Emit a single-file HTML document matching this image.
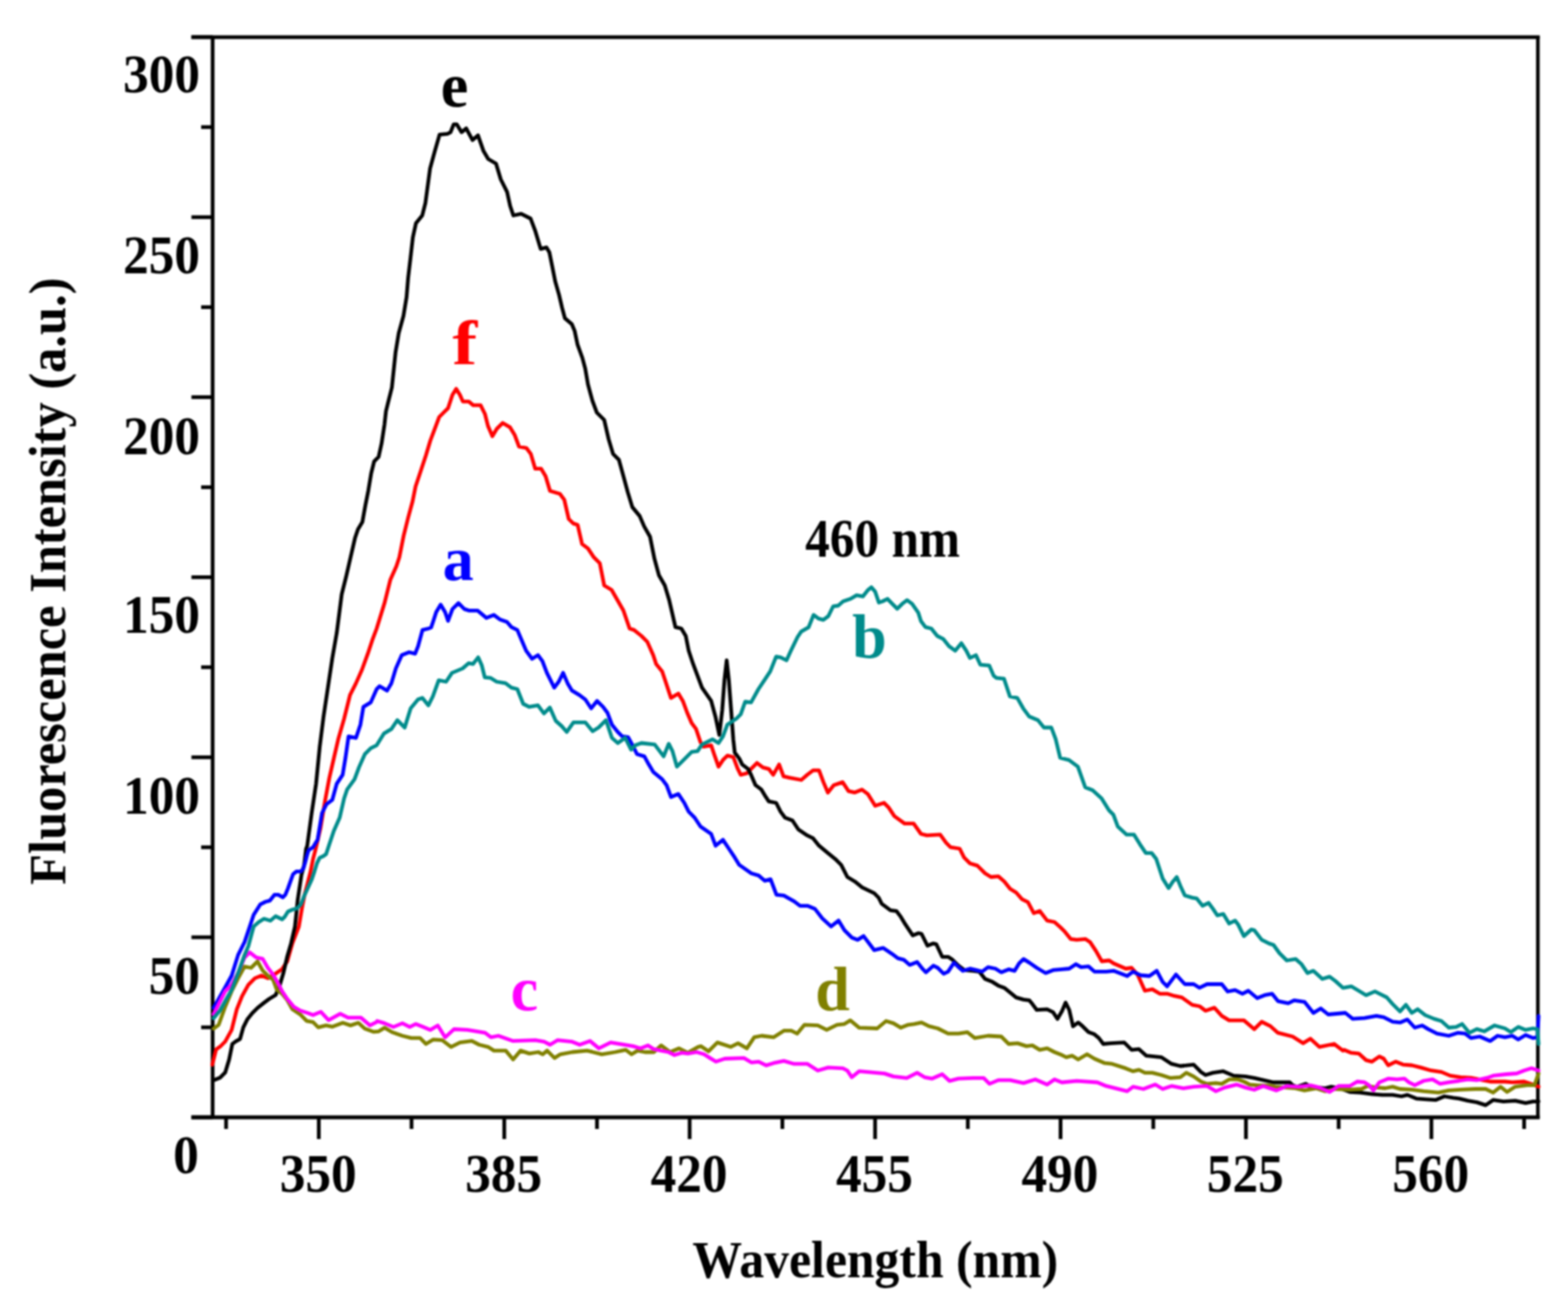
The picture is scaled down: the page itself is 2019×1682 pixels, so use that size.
<!DOCTYPE html>
<html><head><meta charset="utf-8"><title>Fluorescence spectra</title>
<style>
html,body{margin:0;padding:0;background:#fff;}
svg{display:block;}
#wrap{width:2019px;height:1682px;overflow:hidden;filter:blur(1.00px);}
text{font-family:'Liberation Serif','Times New Roman',serif;font-weight:bold;}
</style></head><body><div id="wrap">
<svg width="2019" height="1682" viewBox="0 0 2019 1682">
<rect width="2019" height="1682" fill="#fff"/>

<g stroke="#000" stroke-width="4.8" fill="none" stroke-linecap="butt">
<line x1="246.5" y1="47.8" x2="1982.5" y2="47.8"/>
<line x1="246.5" y1="1439.0" x2="1982.5" y2="1439.0"/>
<line x1="273.8" y1="46.0" x2="273.8" y2="1440.8"/>
<line x1="1980.2" y1="46.0" x2="1980.2" y2="1440.8" stroke-width="4.6"/>
<line x1="246.5" y1="1439.0" x2="273.8" y2="1439.0"/>
<line x1="259" y1="1323.1" x2="273.8" y2="1323.1"/>
<line x1="246.5" y1="1207.1" x2="273.8" y2="1207.1"/>
<line x1="259" y1="1091.2" x2="273.8" y2="1091.2"/>
<line x1="246.5" y1="975.3" x2="273.8" y2="975.3"/>
<line x1="259" y1="859.3" x2="273.8" y2="859.3"/>
<line x1="246.5" y1="743.4" x2="273.8" y2="743.4"/>
<line x1="259" y1="627.5" x2="273.8" y2="627.5"/>
<line x1="246.5" y1="511.5" x2="273.8" y2="511.5"/>
<line x1="259" y1="395.6" x2="273.8" y2="395.6"/>
<line x1="246.5" y1="279.7" x2="273.8" y2="279.7"/>
<line x1="259" y1="163.7" x2="273.8" y2="163.7"/>
<line x1="246.5" y1="47.8" x2="273.8" y2="47.8"/>
<line x1="291.1" y1="1439.0" x2="291.1" y2="1454.0"/>
<line x1="410.5" y1="1439.0" x2="410.5" y2="1467.0"/>
<line x1="529.9" y1="1439.0" x2="529.9" y2="1454.0"/>
<line x1="649.3" y1="1439.0" x2="649.3" y2="1467.0"/>
<line x1="768.7" y1="1439.0" x2="768.7" y2="1454.0"/>
<line x1="888.0" y1="1439.0" x2="888.0" y2="1467.0"/>
<line x1="1007.4" y1="1439.0" x2="1007.4" y2="1454.0"/>
<line x1="1126.8" y1="1439.0" x2="1126.8" y2="1467.0"/>
<line x1="1246.2" y1="1439.0" x2="1246.2" y2="1454.0"/>
<line x1="1365.6" y1="1439.0" x2="1365.6" y2="1467.0"/>
<line x1="1485.0" y1="1439.0" x2="1485.0" y2="1454.0"/>
<line x1="1604.3" y1="1439.0" x2="1604.3" y2="1467.0"/>
<line x1="1723.7" y1="1439.0" x2="1723.7" y2="1454.0"/>
<line x1="1843.1" y1="1439.0" x2="1843.1" y2="1467.0"/>
<line x1="1962.5" y1="1439.0" x2="1962.5" y2="1454.0"/>
</g>
<path d="M273.3,1371.3 L278.3,1351.4 L283.3,1348.1 L290.0,1341.4 L298.3,1326.4 L304.9,1299.8 L311.6,1283.1 L319.9,1268.2 L328.2,1259.9 L336.6,1256.5 L344.9,1259.9 L353.2,1254.9 L363.2,1248.2 L369.9,1238.2 L376.5,1214.9 L384.8,1193.3 L389.1,1168.2 L392.4,1151.6 L395.7,1139.1 L399.9,1122.4 L403.2,1105.8 L406.5,1093.3 L412.7,1066.4 L418.4,1032.1 L424.1,1001.7 L429.8,976.9 L435.5,952.2 L443.1,925.6 L450.7,895.1 L458.4,879.9 L466.0,862.8 L473.6,841.9 L479.3,824.7 L485.0,809.5 L495.1,776.8 L502.7,746.4 L510.4,729.2 L514.2,717.8 L519.9,689.3 L525.6,666.5 L531.3,645.5 L535.1,626.5 L540.8,609.4 L548.4,586.5 L554.1,567.5 L559.8,552.3 L565.5,537.1 L571.2,531.4 L576.9,525.7 L582.6,508.5 L587.4,500.9 L592.2,508.5 L596.0,517.1 L603.6,517.1 L609.3,521.9 L618.8,521.9 L624.5,533.3 L628.3,548.5 L634.0,561.8 L639.7,552.3 L647.3,544.7 L656.8,550.4 L662.6,559.9 L668.3,575.1 L677.8,577.0 L683.5,584.6 L689.2,603.7 L696.8,603.7 L702.5,613.2 L708.2,632.2 L720.9,636.0 L726.6,643.6 L732.3,668.4 L738.1,674.1 L743.8,676.0 L749.5,700.7 L757.1,706.4 L764.7,717.8 L772.3,725.4 L778.0,754.0 L787.5,759.7 L795.1,773.0 L802.7,786.3 L810.7,809.5 L816.4,811.4 L825.9,819.0 L833.5,826.6 L841.1,843.8 L844.9,855.2 L852.6,864.7 L856.4,876.1 L864.0,898.9 L873.5,893.2 L879.2,902.7 L884.9,918.0 L890.6,931.3 L896.3,938.9 L902.0,956.0 L905.8,961.7 L910.0,960.8 L915.7,959.8 L919.5,971.2 L925.2,987.4 L930.9,978.8 L936.6,973.1 L944.2,975.0 L950.0,990.3 L953.8,997.9 L961.4,996.0 L967.1,990.3 L974.7,982.6 L982.3,988.4 L989.9,990.3 L995.6,997.9 L1003.2,984.6 L1008.9,999.8 L1016.5,1001.7 L1031.8,1004.5 L1039.4,997.9 L1047.0,992.2 L1054.6,992.2 L1060.3,1007.4 L1066.0,1020.7 L1073.6,1011.2 L1085.0,1007.4 L1092.6,1018.8 L1100.3,1020.7 L1109.8,1016.9 L1117.4,1022.6 L1126.9,1037.8 L1138.3,1034.0 L1144.0,1039.7 L1151.6,1051.1 L1164.9,1060.7 L1176.4,1060.7 L1185.9,1074.0 L1193.5,1075.9 L1210.6,1074.9 L1218.2,1085.4 L1223.9,1091.1 L1235.7,1093.0 L1241.4,1104.4 L1249.0,1112.0 L1258.5,1114.9 L1268.4,1124.8 L1276.0,1129.5 L1285.5,1128.6 L1293.1,1135.2 L1300.7,1144.7 L1308.4,1149.5 L1316.0,1158.1 L1323.6,1161.9 L1331.2,1176.1 L1338.8,1173.3 L1348.3,1185.6 L1357.8,1187.5 L1365.4,1194.2 L1371.1,1199.9 L1378.8,1209.4 L1386.4,1210.4 L1397.8,1209.4 L1403.5,1213.2 L1411.1,1224.6 L1418.7,1238.0 L1428.2,1237.0 L1433.9,1240.8 L1449.5,1247.5 L1457.1,1246.5 L1464.7,1255.1 L1474.2,1276.0 L1483.8,1274.1 L1493.3,1279.8 L1502.8,1279.8 L1512.3,1282.7 L1521.8,1284.6 L1535.1,1294.1 L1544.6,1296.0 L1552.3,1301.7 L1563.7,1297.9 L1573.2,1308.4 L1582.7,1314.1 L1601.7,1314.1 L1615.0,1325.5 L1624.6,1316.0 L1636.0,1321.7 L1645.5,1330.2 L1664.5,1335.0 L1677.8,1343.6 L1687.3,1337.8 L1698.8,1348.3 L1717.8,1344.5 L1729.2,1353.1 L1730.4,1352.1 L1739.9,1355.9 L1749.5,1356.8 L1759.0,1365.4 L1766.6,1367.3 L1776.1,1360.6 L1781.8,1363.5 L1787.5,1372.0 L1797.0,1367.3 L1806.5,1371.1 L1817.9,1372.0 L1829.4,1374.9 L1842.7,1378.7 L1856.0,1380.6 L1867.4,1385.4 L1880.7,1387.3 L1894.0,1388.2 L1909.2,1391.1 L1918.8,1393.0 L1937.8,1393.0 L1947.3,1393.9 L1962.5,1393.0 L1973.9,1396.8 L1981.1,1399.6" fill="none" stroke="#ff0000" stroke-width="4.8" stroke-linejoin="round" stroke-linecap="round"/>
<path d="M275.0,1391.3 L283.3,1388.0 L290.0,1381.3 L295.0,1364.7 L299.1,1344.7 L303.3,1341.4 L309.1,1338.1 L313.3,1323.1 L318.3,1313.1 L324.9,1304.8 L331.6,1298.1 L339.9,1291.5 L346.6,1286.5 L354.9,1281.5 L359.9,1269.8 L364.9,1253.2 L369.9,1231.6 L374.8,1214.9 L379.8,1193.3 L381.6,1176.5 L383.2,1159.9 L385.7,1143.2 L388.2,1126.6 L391.6,1114.1 L394.1,1093.3 L395.6,1089.2 L401.3,1047.3 L407.0,1009.3 L411.7,961.7 L416.5,923.7 L422.2,885.6 L427.9,847.6 L433.6,815.2 L440.0,765.4 L445.7,742.6 L451.4,717.8 L457.1,693.1 L460.9,681.7 L466.6,672.2 L470.4,651.2 L474.2,632.2 L478.0,609.4 L481.8,594.2 L487.5,588.4 L491.3,571.3 L495.1,546.6 L497.0,529.5 L500.8,514.2 L504.6,499.0 L509.4,453.3 L513.4,429.1 L519.5,406.8 L523.5,382.6 L525.5,358.3 L528.6,332.0 L531.6,305.8 L535.6,287.6 L543.7,277.5 L547.8,261.3 L550.8,239.0 L553.8,216.8 L559.9,194.6 L566.0,173.4 L576.1,172.3 L580.1,170.3 L584.2,160.2 L588.2,160.2 L594.3,170.3 L600.3,165.3 L608.4,180.4 L615.5,174.4 L622.6,194.6 L628.6,204.7 L638.7,210.7 L644.8,231.0 L652.9,247.1 L656.9,265.3 L661.0,277.5 L671.1,275.4 L683.2,281.5 L689.3,297.7 L696.2,320.6 L703.7,318.7 L707.4,325.0 L711.2,343.7 L714.9,362.4 L719.9,379.9 L723.7,396.1 L727.4,409.9 L736.2,417.3 L739.9,426.1 L743.6,443.6 L749.9,461.0 L753.6,474.8 L757.1,495.2 L762.8,516.1 L768.5,531.4 L778.0,540.9 L783.7,565.6 L789.4,584.6 L797.0,592.3 L802.7,613.2 L808.4,634.1 L814.2,653.1 L823.7,664.6 L829.4,677.9 L837.0,691.2 L842.7,719.7 L848.4,740.7 L856.0,754.0 L861.7,773.0 L869.7,807.6 L877.3,809.5 L883.0,819.0 L886.8,838.1 L892.5,855.2 L898.2,870.4 L903.9,885.6 L915.7,902.7 L921.4,923.7 L926.2,946.5 L930.0,914.2 L932.8,876.1 L935.7,850.4 L938.5,876.1 L941.4,914.2 L944.2,952.2 L946.1,969.3 L951.9,976.9 L955.7,984.6 L963.3,990.3 L967.1,997.9 L972.8,1011.2 L980.4,1016.9 L986.1,1026.4 L989.9,1032.1 L999.4,1034.0 L1005.1,1045.4 L1010.8,1053.0 L1020.4,1056.8 L1028.0,1068.3 L1039.4,1075.9 L1047.0,1079.7 L1054.6,1089.2 L1066.0,1098.7 L1075.5,1106.3 L1083.1,1113.9 L1091.1,1129.5 L1100.6,1135.2 L1110.1,1142.8 L1125.7,1150.4 L1131.4,1156.1 L1135.2,1163.8 L1146.6,1172.3 L1154.2,1173.3 L1160.0,1180.9 L1165.7,1190.4 L1169.5,1196.1 L1175.2,1204.7 L1182.8,1201.8 L1186.6,1202.8 L1194.2,1218.0 L1201.8,1215.1 L1205.6,1216.1 L1213.2,1232.3 L1220.8,1232.3 L1226.5,1236.1 L1234.2,1243.7 L1241.8,1249.4 L1253.2,1250.3 L1260.8,1251.3 L1268.4,1260.8 L1277.9,1264.6 L1285.5,1269.4 L1293.1,1272.2 L1302.6,1279.8 L1308.4,1284.6 L1317.9,1287.4 L1325.5,1288.4 L1329.3,1293.1 L1335.0,1300.7 L1348.3,1299.8 L1355.9,1303.6 L1361.6,1312.2 L1367.3,1302.6 L1372.1,1291.2 L1376.8,1300.7 L1381.6,1321.7 L1388.3,1316.9 L1394.0,1321.7 L1401.6,1329.3 L1409.2,1332.1 L1414.9,1336.9 L1420.6,1344.5 L1430.1,1343.6 L1447.6,1342.6 L1457.1,1352.1 L1466.6,1351.2 L1476.1,1359.7 L1495.2,1361.6 L1508.5,1370.2 L1519.9,1373.0 L1537.0,1371.1 L1546.5,1380.7 L1552.3,1384.5 L1561.8,1381.6 L1575.1,1379.7 L1588.4,1385.4 L1603.6,1386.4 L1615.0,1388.3 L1622.6,1390.2 L1639.8,1394.0 L1660.7,1394.0 L1664.5,1397.8 L1670.2,1399.7 L1681.6,1395.9 L1687.3,1399.7 L1706.4,1401.6 L1714.0,1399.7 L1725.4,1401.6 L1738.0,1406.3 L1751.4,1407.2 L1766.6,1409.1 L1779.9,1410.1 L1793.2,1410.1 L1804.6,1412.0 L1812.2,1410.1 L1823.6,1414.8 L1837.0,1415.8 L1848.4,1416.7 L1859.8,1412.0 L1871.2,1413.9 L1878.8,1414.8 L1890.2,1417.7 L1901.6,1419.6 L1913.0,1423.4 L1922.6,1416.7 L1935.9,1418.6 L1951.1,1417.7 L1964.4,1420.6 L1973.9,1418.6 L1981.1,1418.6" fill="none" stroke="#000000" stroke-width="4.8" stroke-linejoin="round" stroke-linecap="round"/>
<path d="M275.0,1298.1 L281.6,1286.5 L290.0,1271.5 L298.3,1256.5 L306.6,1229.9 L314.9,1213.3 L321.6,1193.3 L326.6,1178.3 L335.0,1164.9 L341.6,1161.5 L347.4,1159.9 L353.3,1152.4 L358.3,1152.4 L364.1,1155.7 L367.4,1152.4 L370.8,1144.1 L374.1,1134.9 L377.4,1125.8 L381.6,1122.4 L387.4,1122.4 L390.7,1118.3 L393.2,1109.9 L395.7,1100.0 L397.4,1095.0 L403.2,1091.1 L408.9,1081.6 L414.6,1047.3 L420.3,1035.9 L427.9,1030.2 L433.6,1009.3 L441.2,997.9 L445.0,975.0 L448.8,948.4 L458.4,950.3 L464.1,933.2 L467.9,910.4 L477.4,904.6 L485.0,887.5 L488.8,883.7 L498.3,889.4 L504.0,879.9 L509.7,860.9 L517.3,843.8 L526.8,840.0 L534.5,841.9 L538.3,832.3 L544.0,811.4 L551.6,809.5 L555.1,808.1 L557.9,800.0 L561.7,788.2 L567.4,778.7 L573.1,788.2 L576.9,799.6 L582.6,784.4 L590.3,776.8 L597.9,784.4 L603.6,786.3 L615.0,786.3 L626.4,795.8 L635.9,792.0 L643.5,797.7 L652.8,801.0 L658.5,807.6 L666.1,811.4 L671.8,824.7 L677.5,838.1 L685.1,848.5 L692.7,843.8 L698.4,851.4 L704.2,866.6 L713.7,885.6 L719.4,878.0 L725.1,866.6 L730.8,879.9 L736.5,889.4 L746.0,895.1 L753.6,900.8 L761.2,912.3 L768.8,902.7 L776.5,910.4 L782.2,918.0 L787.9,933.2 L795.5,942.7 L801.2,948.4 L808.8,949.4 L814.5,959.8 L820.2,971.2 L829.7,974.1 L835.4,984.6 L841.1,994.1 L852.6,1003.6 L858.3,1011.2 L864.0,1026.4 L873.5,1022.6 L881.1,1034.0 L886.8,1045.4 L894.4,1053.0 L902.0,1064.5 L915.7,1074.0 L921.4,1089.2 L930.9,1081.6 L938.5,1093.0 L946.1,1104.4 L951.9,1113.9 L967.4,1124.8 L976.9,1127.6 L984.6,1134.3 L992.2,1132.4 L999.8,1152.3 L1009.3,1153.3 L1022.6,1160.9 L1030.2,1166.6 L1039.7,1166.6 L1049.2,1170.4 L1058.8,1182.8 L1070.2,1193.2 L1079.7,1185.6 L1087.3,1198.0 L1096.8,1207.5 L1104.4,1210.4 L1112.0,1205.6 L1125.7,1223.7 L1137.1,1220.8 L1148.5,1228.4 L1156.1,1234.2 L1163.8,1236.1 L1171.4,1242.7 L1180.9,1238.9 L1188.5,1248.4 L1192.3,1252.2 L1201.8,1243.7 L1207.5,1246.5 L1215.1,1254.1 L1220.8,1251.3 L1228.4,1239.9 L1234.2,1245.6 L1239.9,1250.3 L1249.4,1247.5 L1257.0,1249.4 L1264.6,1251.3 L1272.2,1245.6 L1281.7,1247.5 L1289.3,1252.2 L1298.8,1248.4 L1306.5,1250.3 L1312.2,1240.8 L1317.9,1235.1 L1325.5,1239.9 L1335.0,1246.5 L1346.4,1253.2 L1355.9,1249.4 L1367.3,1248.4 L1376.8,1247.5 L1385.4,1241.8 L1392.1,1245.6 L1401.6,1244.6 L1409.2,1251.3 L1424.4,1251.3 L1433.9,1250.3 L1451.4,1257.0 L1459.0,1251.3 L1468.5,1256.0 L1480.0,1257.0 L1489.5,1250.3 L1497.1,1264.6 L1502.8,1270.3 L1514.2,1255.1 L1525.6,1267.5 L1537.0,1267.5 L1544.6,1272.2 L1554.2,1267.5 L1573.2,1267.5 L1580.8,1277.0 L1590.3,1275.1 L1599.8,1279.8 L1607.4,1276.0 L1618.8,1285.5 L1628.4,1281.7 L1637.9,1279.8 L1645.5,1289.3 L1658.8,1292.2 L1666.4,1288.4 L1679.7,1290.3 L1691.1,1304.6 L1700.7,1298.8 L1710.2,1306.5 L1721.6,1305.5 L1732.3,1304.5 L1741.8,1312.1 L1757.1,1311.2 L1772.3,1308.3 L1781.8,1310.2 L1793.2,1315.9 L1802.7,1316.9 L1812.2,1313.1 L1821.7,1323.5 L1831.3,1320.7 L1838.9,1325.4 L1850.3,1331.1 L1865.5,1334.0 L1876.9,1330.2 L1886.4,1331.1 L1894.0,1336.9 L1905.4,1335.0 L1918.8,1340.7 L1928.3,1334.0 L1937.8,1335.9 L1947.3,1334.0 L1954.9,1338.8 L1964.4,1333.0 L1973.9,1336.9 L1979.6,1335.9 L1981.1,1308.3" fill="none" stroke="#0000ff" stroke-width="4.8" stroke-linejoin="round" stroke-linecap="round"/>
<path d="M275.0,1324.8 L281.6,1319.8 L290.0,1296.5 L298.3,1276.5 L306.6,1259.9 L314.9,1244.9 L323.3,1246.5 L331.6,1238.2 L338.2,1249.9 L346.6,1258.2 L351.5,1261.5 L356.5,1274.8 L363.2,1279.8 L369.9,1288.1 L376.5,1299.8 L386.5,1306.4 L394.8,1314.8 L403.1,1316.4 L409.8,1323.1 L419.8,1320.6 L428.1,1322.3 L441.4,1317.3 L451.4,1320.6 L461.4,1317.3 L469.7,1324.8 L481.3,1328.9 L487.6,1328.3 L495.2,1323.6 L504.7,1329.3 L518.1,1334.0 L529.5,1336.9 L540.9,1336.9 L548.5,1344.5 L558.0,1338.8 L569.4,1339.7 L580.8,1348.3 L592.3,1342.6 L607.5,1340.7 L617.0,1345.5 L628.4,1348.3 L636.0,1353.1 L651.2,1353.1 L660.7,1364.5 L670.3,1353.1 L681.7,1356.9 L693.1,1355.0 L698.8,1357.8 L704.5,1353.1 L714.0,1362.6 L721.6,1357.8 L736.8,1355.0 L755.9,1353.1 L774.9,1357.8 L792.0,1355.0 L805.7,1352.1 L813.3,1357.8 L820.9,1353.1 L830.4,1355.0 L841.9,1355.0 L851.4,1346.4 L862.8,1355.0 L874.2,1350.2 L885.6,1355.9 L898.9,1348.3 L902.7,1347.4 L912.3,1354.0 L923.7,1342.6 L940.8,1348.3 L950.3,1343.6 L961.7,1350.2 L971.2,1335.9 L980.7,1334.0 L996.0,1335.9 L1009.3,1327.4 L1018.8,1327.4 L1026.4,1331.2 L1035.9,1319.8 L1053.0,1320.7 L1064.5,1326.4 L1077.8,1319.8 L1087.3,1318.8 L1094.9,1314.1 L1106.3,1323.6 L1129.5,1324.5 L1140.9,1315.0 L1150.4,1317.9 L1160.0,1323.6 L1169.5,1319.8 L1177.1,1318.8 L1186.6,1316.9 L1196.1,1321.7 L1207.5,1324.5 L1220.8,1331.2 L1234.2,1331.2 L1245.6,1329.3 L1255.1,1336.9 L1272.2,1334.0 L1289.3,1335.0 L1298.8,1344.5 L1310.3,1343.6 L1321.7,1347.4 L1329.3,1346.4 L1338.8,1352.1 L1348.3,1350.2 L1357.8,1355.0 L1367.3,1358.8 L1373.0,1361.6 L1380.7,1359.7 L1388.3,1364.5 L1399.7,1357.8 L1409.2,1363.5 L1422.5,1369.2 L1432.0,1370.2 L1449.5,1375.9 L1459.0,1379.7 L1466.6,1377.8 L1474.2,1381.6 L1483.8,1381.6 L1495.2,1384.5 L1506.6,1388.3 L1519.9,1387.3 L1527.5,1381.6 L1537.0,1386.4 L1546.5,1393.0 L1554.2,1395.9 L1565.6,1394.9 L1573.2,1395.9 L1582.7,1390.2 L1594.1,1390.2 L1601.7,1393.0 L1609.3,1396.8 L1620.7,1397.8 L1634.1,1397.8 L1641.7,1399.7 L1655.0,1400.6 L1668.3,1401.6 L1679.7,1404.4 L1694.9,1401.6 L1706.4,1405.4 L1719.7,1402.5 L1738.0,1403.4 L1753.3,1402.5 L1760.9,1398.7 L1772.3,1400.6 L1783.7,1401.5 L1793.2,1399.6 L1802.7,1402.5 L1817.9,1403.4 L1833.2,1405.3 L1852.2,1407.2 L1865.5,1404.4 L1880.7,1403.4 L1899.7,1402.5 L1913.0,1402.5 L1922.6,1407.2 L1932.1,1399.6 L1940.6,1406.3 L1951.1,1399.6 L1966.3,1397.7 L1975.8,1397.7 L1981.1,1382.5" fill="none" stroke="#808000" stroke-width="4.8" stroke-linejoin="round" stroke-linecap="round"/>
<path d="M275.0,1306.4 L281.6,1293.1 L290.0,1276.5 L298.3,1268.2 L306.6,1253.2 L314.9,1233.2 L321.6,1226.6 L329.9,1233.2 L338.2,1234.9 L344.9,1246.5 L351.5,1254.9 L358.2,1266.5 L363.2,1276.5 L369.9,1286.5 L378.2,1296.5 L386.5,1301.5 L396.5,1304.8 L403.1,1307.3 L413.1,1303.1 L423.1,1313.9 L438.1,1305.6 L448.1,1310.6 L464.7,1310.6 L476.4,1320.6 L484.7,1316.4 L485.7,1315.0 L495.2,1317.9 L506.6,1322.6 L518.1,1317.9 L527.6,1322.6 L535.2,1318.8 L544.7,1322.6 L554.2,1326.4 L563.7,1320.7 L573.2,1335.9 L584.6,1325.5 L601.8,1326.4 L624.6,1330.2 L632.2,1335.9 L641.7,1334.0 L660.7,1340.7 L689.3,1339.7 L700.7,1341.7 L708.3,1345.5 L717.8,1339.7 L736.8,1341.7 L746.4,1345.5 L759.7,1340.7 L771.1,1350.2 L786.3,1342.6 L815.2,1347.4 L824.7,1350.2 L834.2,1346.4 L841.9,1351.2 L851.4,1353.1 L860.9,1355.0 L868.5,1358.8 L878.0,1355.9 L885.6,1356.9 L897.0,1355.0 L906.5,1357.8 L914.2,1362.6 L921.8,1367.3 L933.2,1363.5 L957.9,1362.6 L967.4,1368.3 L976.9,1367.3 L986.5,1372.1 L996.0,1369.2 L1009.3,1366.4 L1022.6,1370.2 L1039.7,1370.2 L1053.0,1378.8 L1066.4,1374.9 L1085.4,1375.9 L1091.1,1378.8 L1096.8,1387.3 L1106.3,1379.7 L1139.0,1382.6 L1150.4,1386.4 L1167.6,1388.3 L1180.9,1381.6 L1190.4,1387.3 L1199.9,1389.2 L1213.2,1383.5 L1222.7,1392.1 L1234.2,1389.2 L1253.2,1388.3 L1266.5,1388.3 L1274.1,1395.9 L1285.5,1391.1 L1300.7,1391.1 L1317.9,1394.9 L1333.1,1390.2 L1348.3,1396.8 L1357.8,1390.2 L1367.3,1394.0 L1386.4,1392.1 L1413.0,1394.0 L1424.4,1398.7 L1451.4,1405.4 L1459.0,1399.7 L1472.3,1402.5 L1487.6,1396.8 L1497.1,1402.5 L1508.5,1398.7 L1523.7,1401.6 L1537.0,1399.7 L1554.2,1398.7 L1565.6,1405.4 L1577.0,1400.6 L1592.2,1396.8 L1603.6,1400.6 L1615.0,1403.5 L1626.5,1398.7 L1643.6,1404.4 L1656.9,1398.7 L1672.1,1399.7 L1687.3,1397.8 L1698.8,1400.6 L1712.1,1406.3 L1723.5,1398.7 L1738.0,1398.7 L1747.6,1393.0 L1757.1,1393.9 L1762.8,1397.7 L1768.5,1404.4 L1776.1,1393.9 L1787.5,1389.2 L1798.9,1390.1 L1808.4,1389.2 L1814.1,1393.9 L1821.7,1397.7 L1833.2,1392.0 L1844.6,1390.1 L1854.1,1395.8 L1865.5,1393.9 L1878.8,1392.0 L1890.2,1390.1 L1901.6,1391.1 L1915.0,1388.2 L1922.6,1385.4 L1939.7,1383.5 L1953.0,1382.5 L1962.5,1378.7 L1972.0,1375.8 L1981.1,1378.7" fill="none" stroke="#ff00ff" stroke-width="4.8" stroke-linejoin="round" stroke-linecap="round"/>
<path d="M275.0,1311.4 L283.3,1301.5 L291.6,1286.5 L298.3,1274.8 L306.6,1253.2 L314.9,1229.9 L319.9,1218.2 L326.6,1193.3 L333.2,1187.5 L339.9,1183.3 L348.2,1185.8 L354.9,1180.0 L363.3,1184.0 L366.6,1180.7 L370.8,1174.0 L376.6,1171.5 L382.4,1169.9 L387.4,1164.9 L391.6,1154.1 L396.6,1143.2 L401.5,1132.4 L404.9,1122.4 L408.2,1111.6 L411.5,1104.9 L416.5,1102.5 L419.9,1100.0 L424.1,1087.3 L429.8,1070.2 L437.4,1053.0 L443.1,1028.3 L446.9,1016.9 L456.5,1003.6 L462.2,988.4 L469.8,971.2 L477.4,963.6 L485.0,959.8 L494.5,944.6 L504.0,938.9 L511.6,927.5 L521.1,937.0 L528.8,912.3 L538.3,900.8 L544.0,898.9 L551.6,908.4 L557.3,897.0 L564.9,876.1 L574.4,878.0 L582.0,866.6 L595.7,860.9 L603.3,854.2 L609.0,855.2 L615.7,846.6 L620.4,857.1 L624.2,872.3 L631.9,873.2 L639.5,878.0 L650.9,879.9 L658.5,885.6 L666.1,887.5 L673.7,906.5 L681.3,910.4 L692.7,908.4 L700.4,918.9 L708.0,911.3 L715.6,928.4 L723.2,935.1 L729.8,942.7 L738.4,930.3 L753.6,930.3 L763.1,941.7 L770.7,937.0 L780.3,927.5 L787.9,950.3 L795.5,957.0 L805.0,950.3 L812.6,965.5 L818.3,959.8 L825.9,957.0 L843.0,958.9 L854.5,974.1 L861.1,957.9 L865.9,967.4 L871.6,987.4 L881.1,977.9 L890.6,968.4 L898.2,967.4 L903.9,958.9 L917.6,952.2 L925.2,957.0 L930.9,948.4 L936.6,933.2 L948.1,925.6 L953.8,919.9 L959.5,903.7 L967.1,904.6 L976.6,887.5 L984.2,876.1 L991.8,864.7 L999.4,845.7 L1005.1,846.6 L1012.7,850.4 L1018.4,838.1 L1026.9,820.5 L1031.7,813.3 L1041.2,807.8 L1047.6,791.9 L1053.9,796.7 L1060.2,798.3 L1066.6,793.5 L1072.9,780.8 L1079.3,780.0 L1085.6,774.5 L1095.1,771.3 L1103.0,766.6 L1111.0,768.2 L1117.3,760.2 L1122.0,756.3 L1126.8,761.8 L1131.6,776.1 L1136.3,774.5 L1142.7,771.3 L1149.0,777.7 L1155.3,784.0 L1161.7,777.7 L1168.0,772.9 L1174.4,777.7 L1182.3,788.8 L1185.9,800.0 L1191.6,807.6 L1199.2,809.5 L1206.8,819.0 L1214.4,822.8 L1222.0,832.3 L1230.0,838.1 L1237.8,828.4 L1244.1,837.9 L1248.9,847.4 L1256.6,843.8 L1262.3,856.1 L1273.8,857.1 L1279.5,870.4 L1283.3,873.2 L1292.8,874.2 L1300.4,897.0 L1309.9,898.9 L1317.5,912.3 L1325.1,922.7 L1336.5,927.5 L1344.2,937.0 L1353.7,937.0 L1359.4,952.2 L1365.1,976.0 L1376.5,978.8 L1387.9,987.4 L1397.4,1014.0 L1406.9,1017.8 L1418.4,1028.3 L1427.9,1043.5 L1433.6,1049.2 L1439.3,1064.5 L1450.7,1074.9 L1460.2,1074.9 L1467.8,1087.3 L1475.4,1098.7 L1483.0,1098.7 L1488.8,1106.3 L1497.1,1131.4 L1504.7,1143.8 L1510.4,1135.2 L1515.2,1129.5 L1519.9,1140.9 L1525.6,1153.3 L1535.1,1156.1 L1540.8,1157.1 L1548.4,1166.6 L1556.1,1162.8 L1561.8,1170.4 L1567.5,1179.0 L1575.1,1177.1 L1582.7,1189.4 L1590.3,1185.6 L1594.1,1190.4 L1601.7,1205.6 L1611.2,1197.1 L1615.0,1198.0 L1624.6,1210.4 L1634.1,1215.1 L1639.8,1217.0 L1647.4,1227.5 L1656.9,1237.0 L1668.3,1235.1 L1675.9,1241.8 L1683.5,1253.2 L1691.1,1250.3 L1702.6,1260.8 L1712.1,1257.9 L1719.7,1263.6 L1729.2,1272.2 L1730.4,1272.2 L1739.9,1270.3 L1749.5,1276.0 L1759.0,1281.7 L1770.4,1276.9 L1779.9,1281.7 L1785.6,1284.5 L1793.2,1293.1 L1802.7,1302.6 L1810.3,1294.1 L1817.9,1304.5 L1825.5,1299.8 L1835.1,1307.4 L1846.5,1312.1 L1856.0,1315.0 L1865.5,1323.5 L1875.0,1322.6 L1882.6,1318.8 L1892.1,1330.2 L1901.6,1325.4 L1911.1,1328.3 L1924.5,1320.7 L1937.8,1324.5 L1945.4,1329.2 L1954.9,1322.6 L1964.4,1326.4 L1973.9,1324.5 L1979.6,1325.4 L1981.1,1344.5" fill="none" stroke="#008b8b" stroke-width="4.8" stroke-linejoin="round" stroke-linecap="round"/>
<text transform="translate(257.5,119.3) scale(1.0,1.06)" font-size="66" text-anchor="end" fill="#000">300</text>
<text transform="translate(257.5,352.0) scale(1.0,1.06)" font-size="66" text-anchor="end" fill="#000">250</text>
<text transform="translate(257.5,584.8) scale(1.0,1.06)" font-size="66" text-anchor="end" fill="#000">200</text>
<text transform="translate(257.5,815.4) scale(1.0,1.06)" font-size="66" text-anchor="end" fill="#000">150</text>
<text transform="translate(257.5,1048.2) scale(1.0,1.06)" font-size="66" text-anchor="end" fill="#000">100</text>
<text transform="translate(257.5,1280.4) scale(1.0,1.06)" font-size="66" text-anchor="end" fill="#000">50</text>
<text transform="translate(239.5,1510.8) scale(1.0,1.06)" font-size="66" text-anchor="middle" fill="#000">0</text>
<text transform="translate(409.7,1535.0) scale(1.0,1.06)" font-size="66" text-anchor="middle" fill="#000">350</text>
<text transform="translate(648.5,1535.0) scale(1.0,1.06)" font-size="66" text-anchor="middle" fill="#000">385</text>
<text transform="translate(887.2,1535.0) scale(1.0,1.06)" font-size="66" text-anchor="middle" fill="#000">420</text>
<text transform="translate(1126.0,1535.0) scale(1.0,1.06)" font-size="66" text-anchor="middle" fill="#000">455</text>
<text transform="translate(1364.8,1535.0) scale(1.0,1.06)" font-size="66" text-anchor="middle" fill="#000">490</text>
<text transform="translate(1603.5,1535.0) scale(1.0,1.06)" font-size="66" text-anchor="middle" fill="#000">525</text>
<text transform="translate(1842.3,1535.0) scale(1.0,1.06)" font-size="66" text-anchor="middle" fill="#000">560</text>
<text transform="translate(1127.0,1645.0) scale(1.0,1.06)" font-size="64" text-anchor="middle" fill="#000">Wavelength (nm)</text>
<text transform="translate(84.4,748.5) rotate(-90) scale(1,1.03)" font-size="65" text-anchor="middle" fill="#000">Fluorescence Intensity (a.u.)</text>
<text transform="translate(1136.5,717.4) scale(1.0,1.09)" font-size="63.5" text-anchor="middle" fill="#000">460 nm</text>
<text transform="translate(585.2,137.0) scale(1.0,1.0)" font-size="80" text-anchor="middle" fill="#000000">e</text>
<text transform="translate(598.5,468.5) scale(1.2,1.0)" font-size="80" text-anchor="middle" fill="#ff0000">f</text>
<text transform="translate(589.9,747.0) scale(1.0,1.0)" font-size="80" text-anchor="middle" fill="#0000ff">a</text>
<text transform="translate(1119.5,846.5) scale(1.0,1.0)" font-size="80" text-anchor="middle" fill="#008b8b">b</text>
<text transform="translate(675.3,1300.5) scale(1.0,1.0)" font-size="80" text-anchor="middle" fill="#ff00ff">c</text>
<text transform="translate(1072.0,1300.5) scale(1.0,1.0)" font-size="80" text-anchor="middle" fill="#808000">d</text>
</svg></div></body></html>
